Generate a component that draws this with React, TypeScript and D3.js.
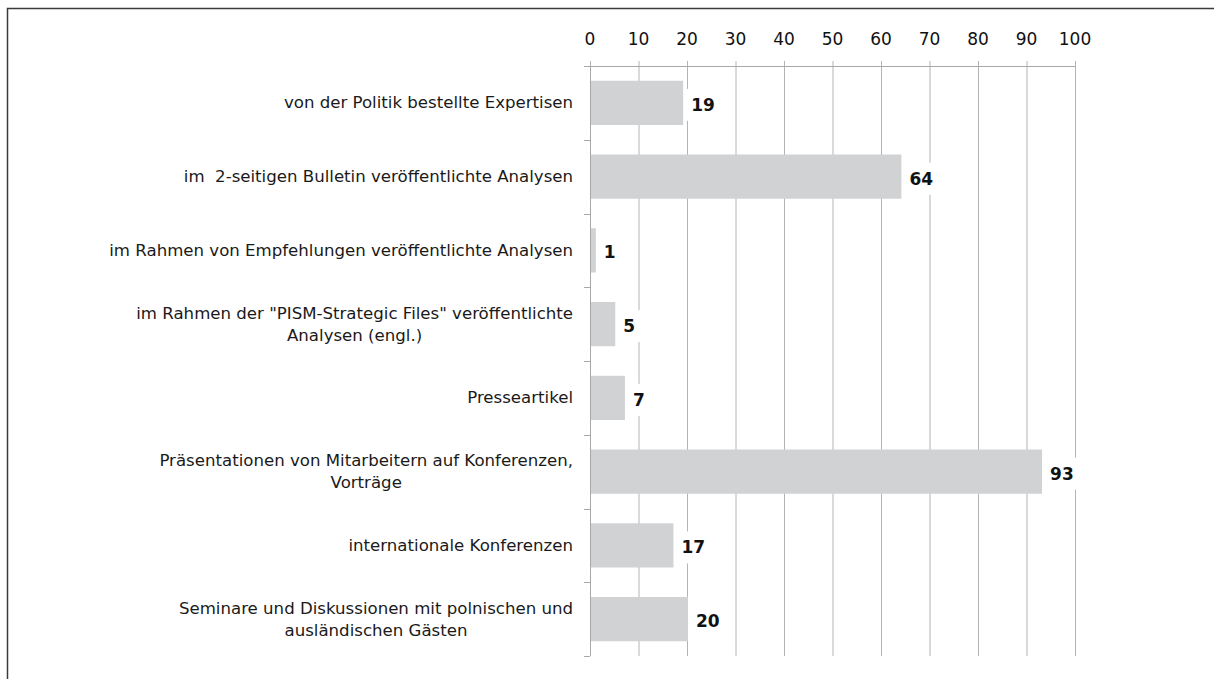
import React, { useEffect, useRef } from 'react';
import * as d3 from 'd3';

const categories = [
  'von der Politik bestellte Expertisen',
  'im  2-seitigen Bulletin veröffentlichte Analysen',
  'im Rahmen von Empfehlungen veröffentlichte Analysen',
  'im Rahmen der "PISM-Strategic Files" veröffentlichte\nAnalysen (engl.)',
  'Presseartikel',
  'Präsentationen von Mitarbeitern auf Konferenzen,\nVorträge',
  'internationale Konferenzen',
  'Seminare und Diskussionen mit polnischen und\nausländischen Gästen',
];
const values = [19, 64, 1, 5, 7, 93, 17, 20];
const xTicks = [0, 10, 20, 30, 40, 50, 60, 70, 80, 90, 100];

const FONT = '"DejaVu Sans", sans-serif';

const App = () => {
  const ref = useRef<SVGSVGElement>(null);

  useEffect(() => {
    const svg = d3.select(ref.current);
    svg.selectAll('*').remove();

    const width = 1214;
    const height = 679;
    const margin = { top: 66, left: 590, right: 139, bottom: 23 };

    const x = d3.scaleLinear().domain([0, 100]).range([margin.left, width - margin.right]);
    const y = d3.scaleBand()
      .domain(categories)
      .range([margin.top, height - margin.bottom])
      .paddingInner(0.4)
      .paddingOuter(0.2);

    // frame
    svg.append('path')
      .attr('d', `M7.5,${height} V8.5 H${width}`)
      .attr('fill', 'none')
      .attr('stroke', '#3a3a3a')
      .attr('stroke-width', 1.5);

    // grid lines (also the top ticks)
    svg.append('g')
      .selectAll('line')
      .data(xTicks)
      .enter().append('line')
      .attr('x1', d => x(d) + 0.5)
      .attr('x2', d => x(d) + 0.5)
      .attr('y1', margin.top - 5)
      .attr('y2', height - margin.bottom)
      .attr('stroke', '#b4b4b4')
      .attr('stroke-width', 1);

    // bars
    svg.append('g')
      .selectAll('rect')
      .data(values)
      .enter().append('rect')
      .attr('x', x(0) + 1)
      .attr('y', (d, i) => y(categories[i])!)
      .attr('width', d => x(d) - x(0))
      .attr('height', y.bandwidth())
      .attr('fill', '#d1d2d4');

    // value labels with white box
    const lab = svg.append('g')
      .selectAll('g')
      .data(values)
      .enter().append('g');
    const texts = lab.append('text')
      .attr('x', d => x(d) + 9)
      .attr('y', (d, i) => y(categories[i])! + y.bandwidth() / 2 + 2)
      .attr('dominant-baseline', 'central')
      .attr('font-family', FONT)
      .attr('font-weight', 'bold')
      .attr('font-size', 17)
      .attr('fill', '#111')
      .text(d => d);
    texts.each(function (d, i) {
      const t = this as SVGTextElement;
      const w = t.getComputedTextLength();
      const g = d3.select(t.parentNode as SVGGElement);
      g.insert('rect', 'text')
        .attr('x', x(d) + 3)
        .attr('y', y(categories[i])! + y.bandwidth() / 2 - 14)
        .attr('width', w + 12)
        .attr('height', 32)
        .attr('fill', '#fff');
    });

    // top axis
    svg.append('line')
      .attr('x1', margin.left - 6)
      .attr('x2', x(100) + 0.5)
      .attr('y1', margin.top + 0.5)
      .attr('y2', margin.top + 0.5)
      .attr('stroke', '#a8a8a8');
    svg.append('g')
      .selectAll('text')
      .data(xTicks)
      .enter().append('text')
      .attr('x', d => x(d))
      .attr('y', 45)
      .attr('text-anchor', 'middle')
      .attr('font-family', FONT)
      .attr('font-size', 17)
      .attr('fill', '#111')
      .text(d => d);

    // left axis
    const step = y.step();
    const y0 = margin.top;
    const bounds = d3.range(categories.length + 1).map(i => y0 + i * step);
    svg.append('line')
      .attr('x1', margin.left + 0.5)
      .attr('x2', margin.left + 0.5)
      .attr('y1', margin.top)
      .attr('y2', height - margin.bottom)
      .attr('stroke', '#a8a8a8');
    svg.append('g')
      .selectAll('line')
      .data(bounds)
      .enter().append('line')
      .attr('x1', margin.left - 6)
      .attr('x2', margin.left)
      .attr('y1', d => Math.round(d) + 0.5)
      .attr('y2', d => Math.round(d) + 0.5)
      .attr('stroke', '#a8a8a8');

    // category labels: centered block, right-aligned
    const lineH = 22;
    categories.forEach((c, i) => {
      const lines = c.split('\n');
      const cy = y(c)! + y.bandwidth() / 2;
      const t = svg.append('text')
        .attr('font-family', FONT)
        .attr('font-size', 16.6)
        .attr('fill', '#1a1a1a')
        .attr('text-anchor', 'middle')
        .style('white-space', 'pre');
      const spans = lines.map((l, j) =>
        t.append('tspan')
          .attr('y', cy + (j - (lines.length - 1) / 2) * lineH)
          .attr('dominant-baseline', 'central')
          .text(l)
      );
      let maxW = 0;
      spans.forEach(s => { maxW = Math.max(maxW, (s.node() as SVGTextContentElement).getComputedTextLength()); });
      spans.forEach(s => s.attr('x', margin.left - 17 - maxW / 2));
    });
  }, []);

  return (
    <div style={{ position: 'absolute', left: 0, top: 0, width: 1214, height: 679, background: '#fff' }}>
      <svg ref={ref} width={1214} height={679}></svg>
    </div>
  );
};

export default App;
